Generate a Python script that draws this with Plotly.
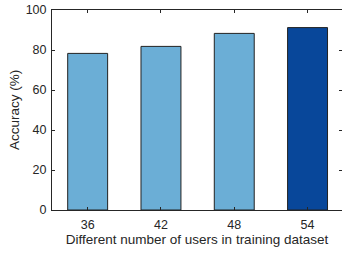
import plotly.graph_objects as go

users = [36, 42, 48, 54]
accuracy = [78.3, 81.8, 88.3, 91.2]
bar_colors = ["#6baed6", "#6baed6", "#6baed6", "#08479a"]
y_ticks = [0, 20, 40, 60, 80, 100]

fig = go.Figure()
fig.add_trace(go.Bar(
    x=users, y=accuracy, width=3.27,
    marker=dict(color=bar_colors, line=dict(color="#222222", width=1)),
))

axis_common = dict(
    showline=True, linecolor="#262626", linewidth=1, mirror="ticks",
    ticks="inside", ticklen=3, tickcolor="#262626",
    showgrid=False, zeroline=False, automargin=False,
    tickfont=dict(family="Liberation Sans, Arial, sans-serif", size=12.5, color="#262626"),
)

fig.update_layout(
    width=342, height=255, autosize=False,
    margin=dict(l=52, r=0, t=10, b=45),
    plot_bgcolor="white", paper_bgcolor="white",
    showlegend=False,
    font=dict(family="Liberation Sans, Arial, sans-serif", size=12.5, color="#262626"),
    xaxis=dict(range=[33.08, 56.82], tickvals=users, ticktext=[str(u) for u in users],
               ticklabelstandoff=3,
               title=dict(text="Different number of users in training dataset",
                          font=dict(size=13.5), standoff=3),
               **axis_common),
    yaxis=dict(range=[0, 100], tickvals=y_ticks, ticklabelstandoff=2,
               title=dict(text="Accuracy (%)", font=dict(size=13.5), standoff=2),
               **axis_common),
)

fig.write_html(
    "out.html",
    config={"responsive": False, "displayModeBar": False},
    post_script="document.body.style.margin='0';document.body.style.overflow='hidden';",
)
